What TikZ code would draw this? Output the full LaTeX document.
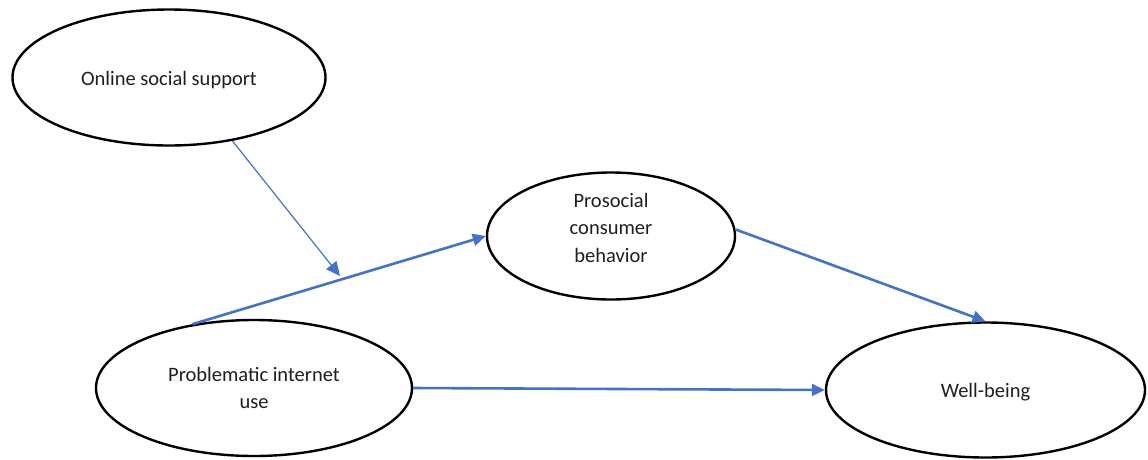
\documentclass[tikz,border=0pt]{standalone}
\usepackage{fontspec}
\setmainfont{Carlito}
\usetikzlibrary{shapes.geometric,arrows.meta}
\definecolor{officeblue}{RGB}{68,114,196}
\definecolor{txt}{RGB}{30,30,30}
\newcommand{\lines}[2]{\raisebox{#1}[\height][\depth]{\begin{tabular}{@{}c@{}}#2\end{tabular}}}
\begin{document}
\begin{tikzpicture}[x=1pt,y=-1pt,
  construct/.style={ellipse,draw=black,line width=2.4pt,inner sep=0pt,
    text=txt,font=\fontsize{20.5}{27.5}\selectfont},
  patharrow/.style={draw=officeblue,line width=2.6pt,-{Triangle[length=13pt,width=12pt]}},
  modarrow/.style={draw=officeblue,line width=1.2pt,-{Triangle[length=14pt,width=13pt]}}]
\useasboundingbox (0,0) rectangle (1148,459);
\node[construct,minimum width=313pt,minimum height=136pt] (oss) at (169,77.5) {\lines{-2pt}{Online social support}};
\node[construct,minimum width=248pt,minimum height=127pt] (pcb) at (611,236) {\lines{7pt}{Prosocial\\consumer\\behavior}};
\node[construct,minimum width=316pt,minimum height=136pt] (piu) at (254,388) {\lines{-1.5pt}{Problematic internet\\use}};
\node[construct,minimum width=319pt,minimum height=135pt] (wb) at (985.5,390) {\lines{-2pt}{Well-being}};
\coordinate (mod) at (340,276);
\draw[modarrow] (oss.-45.7) -- (mod);
\draw[patharrow] (piu.134) -- (pcb.west);
\draw[patharrow] (pcb.3) -- (wb.north);
\draw[patharrow] (piu.east) -- (wb.west);
\end{tikzpicture}
\end{document}
